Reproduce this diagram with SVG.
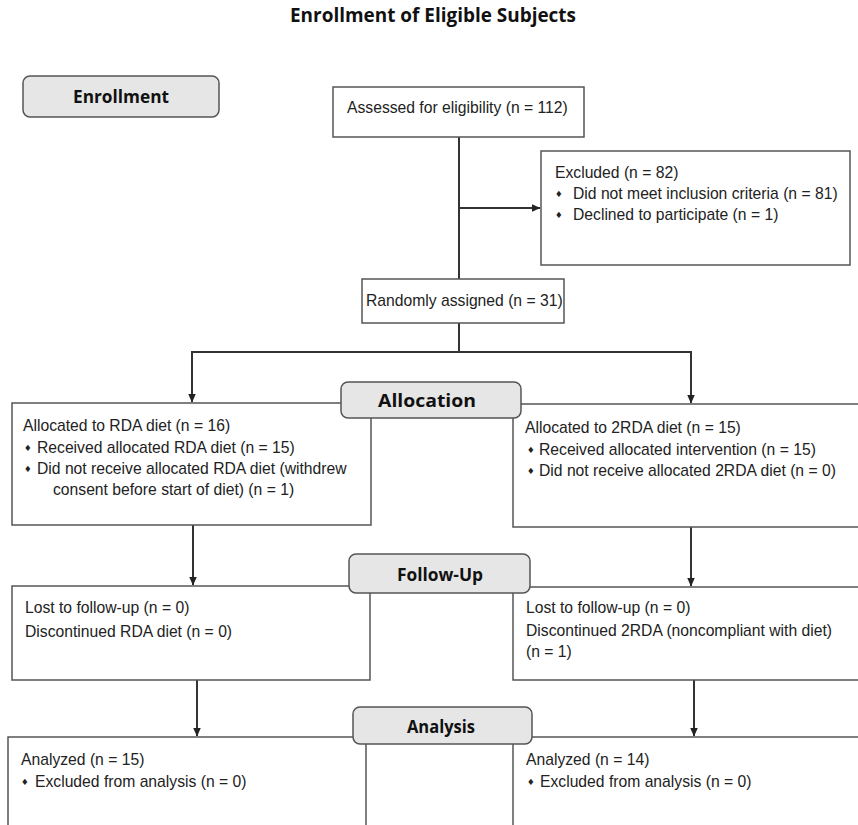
<svg xmlns="http://www.w3.org/2000/svg" width="858" height="825" viewBox="0 0 858 825">
<defs>
<marker id="arr" markerUnits="userSpaceOnUse" markerWidth="9" markerHeight="8" refX="8.5" refY="4" orient="auto" viewBox="0 0 9 8">
<path d="M0,0 L9,4 L0,8 Z" fill="#222"/>
</marker>
</defs>
<style>
.box{fill:#fff;stroke:#555;stroke-width:1.5}
.lbl{fill:#e6e6e6;stroke:#555;stroke-width:1.5}
.lt{font-family:"Open Sans",Lato,"Liberation Sans",sans-serif;font-weight:700;font-size:17.5px;fill:#111;text-anchor:middle}
.t{font-family:"Liberation Sans",Arial,sans-serif;font-size:15.7px;fill:#222}
.b{font-family:"DejaVu Sans",sans-serif;font-size:8.5px;fill:#222}
.ln{stroke:#333;stroke-width:2;fill:none}
</style>
<rect width="858" height="825" fill="#fff"/>
<text id="title" x="433" y="22" class="lt" style="font-size:19.5px" textLength="286" lengthAdjust="spacingAndGlyphs">Enrollment of Eligible Subjects</text>

<g id="connectors">
<line class="ln" x1="459" y1="137" x2="459" y2="279"/>
<line class="ln" x1="459" y1="208" x2="540" y2="208" marker-end="url(#arr)"/>
<line class="ln" x1="459" y1="323" x2="459" y2="352"/>
<line class="ln" x1="191" y1="352" x2="692" y2="352"/>
<line class="ln" x1="192" y1="352" x2="192" y2="402" marker-end="url(#arr)"/>
<line class="ln" x1="691" y1="352" x2="691" y2="403" marker-end="url(#arr)"/>
<line class="ln" x1="193" y1="525" x2="193" y2="585" marker-end="url(#arr)"/>
<line class="ln" x1="691" y1="527" x2="691" y2="586" marker-end="url(#arr)"/>
<line class="ln" x1="197" y1="680" x2="197" y2="736" marker-end="url(#arr)"/>
<line class="ln" x1="694" y1="680" x2="694" y2="736" marker-end="url(#arr)"/>
</g>

<g id="enrollment-label">
<rect class="lbl" x="23" y="76" width="196" height="41" rx="7"/>
<text class="lt" x="121" y="103" textLength="96" lengthAdjust="spacingAndGlyphs">Enrollment</text>
</g>

<g id="assessed">
<rect class="box" x="333" y="87" width="251" height="50"/>
<text class="t" x="347" y="113">Assessed for eligibility (n = 112)</text>
</g>

<g id="excluded">
<rect class="box" x="541" y="151" width="309" height="114"/>
<text class="t" x="555" y="178">Excluded (n = 82)</text>
<text class="b" x="555" y="197">♦</text>
<text class="t" x="573" y="199">Did not meet inclusion criteria (n = 81)</text>
<text class="b" x="555" y="218">♦</text>
<text class="t" x="573" y="220">Declined to participate (n = 1)</text>
</g>

<g id="randomized">
<rect class="box" x="362" y="279" width="202" height="44"/>
<text class="t" x="366" y="306">Randomly assigned (n = 31)</text>
</g>

<g id="alloc-left">
<rect class="box" x="12" y="403" width="359" height="122"/>
<text class="t" x="23" y="431">Allocated to RDA diet (n = 16)</text>
<text class="b" x="24" y="451">♦</text>
<text class="t" x="37" y="453">Received allocated RDA diet (n = 15)</text>
<text class="b" x="24" y="472">♦</text>
<text class="t" x="37" y="474">Did not receive allocated RDA diet (withdrew</text>
<text class="t" x="53" y="495">consent before start of diet) (n = 1)</text>
</g>

<g id="alloc-right">
<rect class="box" x="513" y="404" width="352" height="123"/>
<text class="t" x="525" y="433">Allocated to 2RDA diet (n = 15)</text>
<text class="b" x="527" y="453">♦</text>
<text class="t" x="539" y="455">Received allocated intervention (n = 15)</text>
<text class="b" x="527" y="474">♦</text>
<text class="t" x="539" y="476">Did not receive allocated 2RDA diet (n = 0)</text>
</g>

<g id="allocation-label">
<rect class="lbl" x="341" y="382" width="180" height="36" rx="7"/>
<text class="lt" x="427" y="407" textLength="98" lengthAdjust="spacingAndGlyphs">Allocation</text>
</g>

<g id="followup-left">
<rect class="box" x="12" y="586" width="358" height="94"/>
<text class="t" x="25" y="613">Lost to follow-up (n = 0)</text>
<text class="t" x="25" y="637">Discontinued RDA diet (n = 0)</text>
</g>

<g id="followup-right">
<rect class="box" x="513" y="587" width="352" height="93"/>
<text class="t" x="526" y="613">Lost to follow-up (n = 0)</text>
<text class="t" x="526" y="636">Discontinued 2RDA (noncompliant with diet)</text>
<text class="t" x="526" y="657">(n = 1)</text>
</g>

<g id="followup-label">
<rect class="lbl" x="349" y="554" width="181" height="39" rx="7"/>
<text class="lt" x="440" y="581" textLength="86" lengthAdjust="spacingAndGlyphs">Follow-Up</text>
</g>

<g id="analysis-left">
<rect class="box" x="8" y="737" width="358" height="100"/>
<text class="t" x="21" y="765">Analyzed (n = 15)</text>
<text class="b" x="21" y="785">♦</text>
<text class="t" x="35" y="787">Excluded from analysis (n = 0)</text>
</g>

<g id="analysis-right">
<rect class="box" x="513" y="737" width="352" height="100"/>
<text class="t" x="526" y="765">Analyzed (n = 14)</text>
<text class="b" x="527" y="785">♦</text>
<text class="t" x="540" y="787">Excluded from analysis (n = 0)</text>
</g>

<g id="analysis-label">
<rect class="lbl" x="353" y="707" width="179" height="37" rx="7"/>
<text class="lt" x="441" y="733" textLength="68" lengthAdjust="spacingAndGlyphs">Analysis</text>
</g>
</svg>
